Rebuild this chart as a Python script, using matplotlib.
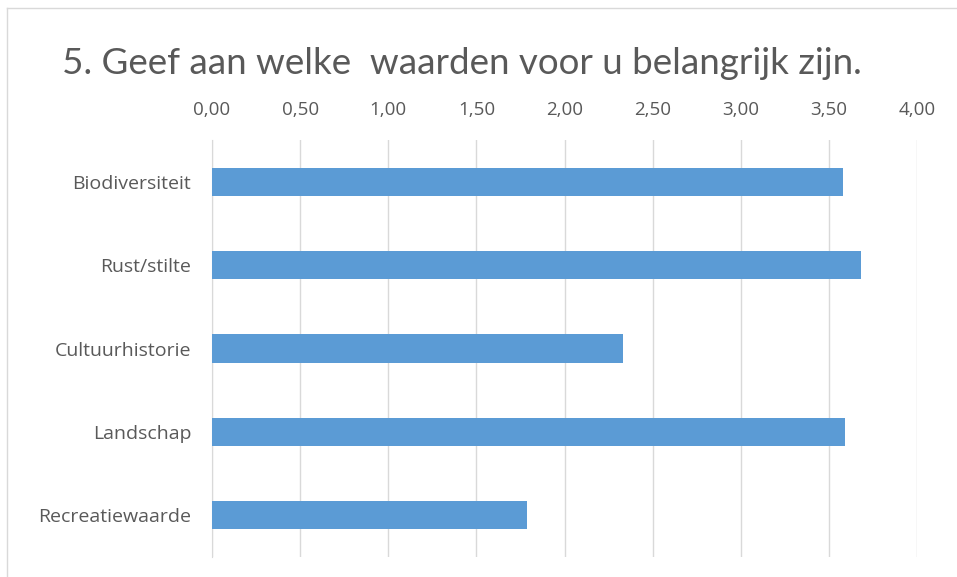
import matplotlib.pyplot as plt
from matplotlib.lines import Line2D
from matplotlib.ticker import FuncFormatter

categories = ['Biodiversiteit', 'Rust/stilte', 'Cultuurhistorie', 'Landschap', 'Recreatiewaarde']
values = [3.58, 3.68, 2.33, 3.59, 1.79]
x_ticks = [0, 0.5, 1.0, 1.5, 2.0, 2.5, 3.0, 3.5, 4.0]

plt.rcParams['font.family'] = ['Open Sans', 'DejaVu Sans']
text_color = '#595959'

fig = plt.figure(figsize=(9.57, 5.77), dpi=100)
# chart frame: only left and top edges are visible
fx, fy = 7.5 / 957, 1 - 7.5 / 577
fig.lines.append(Line2D([fx, fx], [0, fy], transform=fig.transFigure, color='#D9D9D9', lw=1))
fig.lines.append(Line2D([fx, 1], [fy, fy], transform=fig.transFigure, color='#D9D9D9', lw=1))

ax = fig.add_axes([212 / 957, 1 - 557 / 577, 705 / 957, 417 / 577])
pos = list(range(len(categories)))
ax.barh(pos, values, height=0.34, color='#5B9BD5', zorder=3)
ax.set_ylim(len(categories) - 0.5, -0.5)
ax.set_xlim(0, 4)
ax.set_yticks(pos)
ax.set_yticklabels(categories)
ax.set_xticks(x_ticks)
ax.xaxis.set_major_formatter(FuncFormatter(lambda v, p: f'{v:.2f}'.replace('.', ',')))
ax.xaxis.tick_top()
ax.tick_params(axis='x', length=0, pad=15, labelsize=13.5, labelcolor=text_color)
ax.tick_params(axis='y', length=0, pad=15, labelsize=14, labelcolor=text_color)
ax.grid(axis='x', color='#D9D9D9', linewidth=1, zorder=0)
for s in ['top', 'right', 'bottom']:
    ax.spines[s].set_visible(False)
ax.spines['left'].set_color('#D9D9D9')

fig.text(462 / 957, 1 - 64 / 577, '5. Geef aan welke  waarden voor u belangrijk zijn.',
         ha='center', va='center', fontsize=26.5, color=text_color, family=['Lato', 'DejaVu Sans'])

fig.savefig('out.png', dpi=100)
